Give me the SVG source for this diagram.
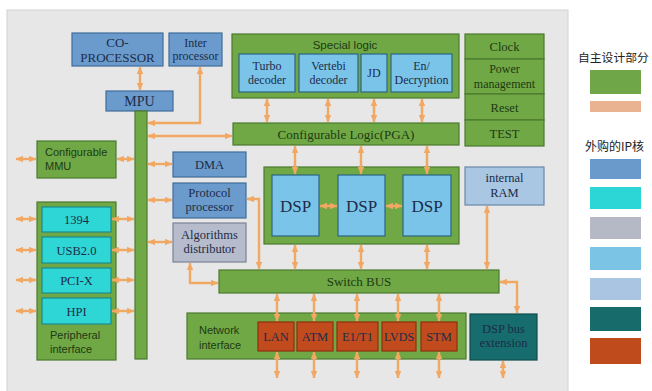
<svg xmlns="http://www.w3.org/2000/svg" width="652" height="391" viewBox="0 0 652 391">
<defs>
<marker id="ah" viewBox="0 0 8 7" markerWidth="7.5" markerHeight="6.5" refX="7.5" refY="3.5" orient="auto-start-reverse" markerUnits="userSpaceOnUse">
<path d="M0,0 L8,3.5 L0,7 z" fill="#f1a862"/>
</marker>
</defs>
<style>
.g{fill:#70a846;stroke:#4b7a2d;stroke-width:1.2}
.b{fill:#6b9bcc;stroke:#3f6d9a;stroke-width:1.2}
.c{fill:#2fd6d6;stroke:#1b8a8a;stroke-width:1.2}
.lb{fill:#7ac4e9;stroke:#2a6783;stroke-width:1.2}
.pb{fill:#a9c6e3;stroke:#6a87a8;stroke-width:1.2}
.gr{fill:#b6bccc;stroke:#7a8296;stroke-width:1.2}
.r{fill:#c24b1d;stroke:#8e3010;stroke-width:1.2}
.t{fill:#176d6d;stroke:#0e4c4c;stroke-width:1.2}
text{font-family:"Liberation Serif","Times New Roman",serif;text-anchor:middle;fill:#1c2c48}
.s{font-family:"Liberation Sans",Arial,sans-serif}
.dg{fill:#1e3a12}
.lt{text-anchor:start}
.cn path,.cn line{stroke:#f1a862;stroke-width:2.4;fill:none;marker-start:url(#ah);marker-end:url(#ah)}
.cjk{font-family:"Noto Sans CJK SC","Liberation Sans",sans-serif;text-anchor:start;fill:#222}
</style>
<rect x="0" y="0" width="652" height="391" fill="#ffffff"/>
<rect x="7" y="10" width="561" height="382" fill="#e7e7e7" stroke="#d2d2d2"/>

<g id="coprocessor"><rect class="b" x="72" y="33" width="91" height="33"/><text x="117.5" y="47" font-size="13">CO-</text><text x="117.5" y="61.5" font-size="13">PROCESSOR</text></g>
<g id="interprocessor"><rect class="b" x="169" y="33" width="53" height="33"/><text x="195.5" y="47" font-size="12">Inter</text><text x="195.5" y="60" font-size="12">processor</text></g>
<g id="mpu"><rect class="b" x="106" y="91" width="67" height="20"/><text x="139.5" y="106" font-size="14">MPU</text></g>
<g id="bus"><rect class="g" x="135" y="111" width="12" height="248"/></g>

<g id="special-logic"><rect class="g" x="232" y="34" width="227" height="64"/><text class="s dg" x="345" y="49" font-size="11.5">Special logic</text>
<g id="turbo"><rect class="lb" x="239" y="54" width="56" height="38"/><text x="267" y="70" font-size="12">Turbo</text><text x="267" y="84" font-size="12">decoder</text></g>
<g id="vertebi"><rect class="lb" x="299" y="54" width="59" height="38"/><text x="328.5" y="70" font-size="12">Vertebi</text><text x="328.5" y="84" font-size="12">decoder</text></g>
<g id="jd"><rect class="lb" x="361" y="54" width="26" height="38"/><text x="374" y="77" font-size="12">JD</text></g>
<g id="endecryption"><rect class="lb" x="391" y="54" width="61" height="38"/><text x="421.5" y="70" font-size="12">En/</text><text x="421.5" y="84" font-size="12">Decryption</text></g>
</g>

<g id="clock"><rect class="g" x="465" y="34" width="79" height="25"/><text class="dg" x="504.5" y="51" font-size="12.5">Clock</text></g>
<g id="power"><rect class="g" x="465" y="59" width="79" height="35"/><text class="dg" x="504.5" y="73" font-size="12">Power</text><text class="dg" x="504.5" y="88" font-size="12">management</text></g>
<g id="reset"><rect class="g" x="465" y="94" width="79" height="26"/><text class="dg" x="504.5" y="111.5" font-size="12.5">Reset</text></g>
<g id="test"><rect class="g" x="465" y="120" width="79" height="26"/><text class="dg" x="504.5" y="137.5" font-size="12.5">TEST</text></g>

<g id="config-logic"><rect class="g" x="233" y="123" width="226" height="22"/><text class="dg" x="346" y="138.5" font-size="13">Configurable Logic(PGA)</text></g>

<g id="dsp-group"><rect class="g" x="264" y="167" width="195" height="77"/>
<g id="dsp1"><rect class="lb" x="272" y="175" width="47" height="61"/><text x="295.5" y="212" font-size="17">DSP</text></g>
<g id="dsp2"><rect class="lb" x="338" y="175" width="47" height="61"/><text x="361.5" y="212" font-size="17">DSP</text></g>
<g id="dsp3"><rect class="lb" x="403" y="175" width="48" height="61"/><text x="427" y="212" font-size="17">DSP</text></g>
</g>

<g id="internal-ram"><rect class="pb" x="465" y="167" width="79" height="38"/><text x="504.5" y="182" font-size="12.5">internal</text><text x="504.5" y="197" font-size="12.5">RAM</text></g>

<g id="mmu"><rect class="g" x="37" y="141" width="79" height="37"/><text class="s dg lt" x="45" y="156" font-size="11">Configurable</text><text class="s dg lt" x="45" y="170" font-size="11">MMU</text></g>
<g id="dma"><rect class="b" x="173" y="152" width="73" height="25"/><text x="209.5" y="169" font-size="12.5">DMA</text></g>
<g id="protocol"><rect class="b" x="173" y="183" width="73" height="35"/><text x="209.5" y="197" font-size="12.5">Protocol</text><text x="209.5" y="211" font-size="12.5">processor</text></g>
<g id="algorithms"><rect class="gr" x="173" y="223" width="73" height="39"/><text x="209.5" y="239" font-size="12.5">Algorithms</text><text x="209.5" y="253" font-size="12.5">distributor</text></g>

<g id="peripheral"><rect class="g" x="37" y="202" width="79" height="158"/><text class="s dg lt" x="50" y="339" font-size="11">Peripheral</text><text class="s dg lt" x="50" y="353" font-size="11">interface</text>
<g id="p1394"><rect class="c" x="42" y="207" width="69" height="25"/><text x="76.5" y="224" font-size="12.5">1394</text></g>
<g id="usb"><rect class="c" x="42" y="237" width="69" height="26"/><text x="76.5" y="255" font-size="12.5">USB2.0</text></g>
<g id="pcix"><rect class="c" x="42" y="268" width="69" height="25"/><text x="76.5" y="285" font-size="12.5">PCI-X</text></g>
<g id="hpi"><rect class="c" x="42" y="298" width="69" height="26"/><text x="76.5" y="316" font-size="12.5">HPI</text></g>
</g>

<g id="switch-bus"><rect class="g" x="219" y="270" width="280" height="23"/><text class="dg" x="359" y="286" font-size="13">Switch BUS</text></g>

<g id="network"><rect class="g" x="187" y="313" width="279" height="46"/><text class="s dg lt" x="199" y="334" font-size="11">Network</text><text class="s dg lt" x="199" y="349" font-size="11">interface</text>
<g id="lan"><rect class="r" x="258" y="322" width="36" height="29"/><text x="276" y="341" font-size="12.5" fill="#5a1406">LAN</text></g>
<g id="atm"><rect class="r" x="297" y="322" width="36" height="29"/><text x="315" y="341" font-size="12.5" fill="#5a1406">ATM</text></g>
<g id="e1t1"><rect class="r" x="337" y="322" width="41" height="29"/><text x="357.5" y="341" font-size="12.5" fill="#5a1406">E1/T1</text></g>
<g id="lvds"><rect class="r" x="382" y="322" width="34" height="29"/><text x="399" y="341" font-size="12" fill="#5a1406">LVDS</text></g>
<g id="stm"><rect class="r" x="421" y="322" width="36" height="29"/><text x="439" y="341" font-size="12.5" fill="#5a1406">STM</text></g>
</g>

<g id="dsp-bus-ext"><rect class="t" x="470" y="314" width="67" height="46"/><text x="503.5" y="333" font-size="12.5" fill="#0a4545">DSP bus</text><text x="503.5" y="347" font-size="12.5" fill="#0a4545">extension</text></g>

<g id="connectors" class="cn">
<line x1="140" y1="67" x2="140" y2="90"/>
<path d="M200,67 V123 H148"/>
<line x1="148" y1="136" x2="232" y2="136"/>
<line x1="16" y1="159" x2="36" y2="159"/>
<line x1="117" y1="159" x2="134" y2="159"/>
<line x1="148" y1="164" x2="172" y2="164"/>
<line x1="148" y1="200" x2="172" y2="200"/>
<line x1="148" y1="242" x2="172" y2="242"/>
<line x1="16" y1="219" x2="36" y2="219"/>
<line x1="16" y1="250" x2="36" y2="250"/>
<line x1="16" y1="280" x2="36" y2="280"/>
<line x1="16" y1="311" x2="36" y2="311"/>
<line x1="112" y1="219" x2="134" y2="219"/>
<line x1="112" y1="250" x2="134" y2="250"/>
<line x1="112" y1="280" x2="134" y2="280"/>
<line x1="112" y1="311" x2="134" y2="311"/>
<line x1="267" y1="99" x2="267" y2="122"/>
<line x1="328" y1="99" x2="328" y2="122"/>
<line x1="374" y1="99" x2="374" y2="122"/>
<line x1="422" y1="99" x2="422" y2="122"/>
<line x1="295" y1="146" x2="295" y2="174"/>
<line x1="361" y1="146" x2="361" y2="174"/>
<line x1="427" y1="146" x2="427" y2="174"/>
<line x1="320" y1="206" x2="337" y2="206"/>
<line x1="386" y1="206" x2="402" y2="206"/>
<line x1="295" y1="245" x2="295" y2="269"/>
<line x1="361" y1="245" x2="361" y2="269"/>
<line x1="427" y1="245" x2="427" y2="269"/>
<path d="M247,199 H259 V269"/>
<line x1="487" y1="206" x2="487" y2="269"/>
<path d="M190,263 V283 H218"/>
<path d="M500,282 H517 V313"/>
<line x1="277" y1="294" x2="277" y2="321"/>
<line x1="314" y1="294" x2="314" y2="321"/>
<line x1="357" y1="294" x2="357" y2="321"/>
<line x1="398" y1="294" x2="398" y2="321"/>
<line x1="439" y1="294" x2="439" y2="321"/>
<line x1="277" y1="352" x2="277" y2="378"/>
<line x1="314" y1="352" x2="314" y2="378"/>
<line x1="357" y1="352" x2="357" y2="378"/>
<line x1="398" y1="352" x2="398" y2="378"/>
<line x1="439" y1="352" x2="439" y2="378"/>
<line x1="503" y1="361" x2="503" y2="378"/>
</g>

<g id="legend">
<text class="cjk" x="578" y="62" font-size="11.8">自主设计部分</text>
<rect x="590" y="70" width="51" height="24" fill="#6fa648"/>
<rect x="590" y="101" width="51" height="11" fill="#e9b291"/>
<text class="cjk" x="585" y="151" font-size="12">外购的IP核</text>
<rect x="590" y="159" width="51" height="20" fill="#6a9acb"/>
<rect x="590" y="187" width="51" height="22" fill="#2dd6d6"/>
<rect x="590" y="217" width="51" height="22" fill="#b5b9c6"/>
<rect x="590" y="247" width="51" height="23" fill="#7cc4e6"/>
<rect x="590" y="278" width="51" height="22" fill="#a9c5e2"/>
<rect x="590" y="307" width="51" height="24" fill="#176b6b"/>
<rect x="590" y="338" width="51" height="26" fill="#bf4a1c"/>
</g>
</svg>
